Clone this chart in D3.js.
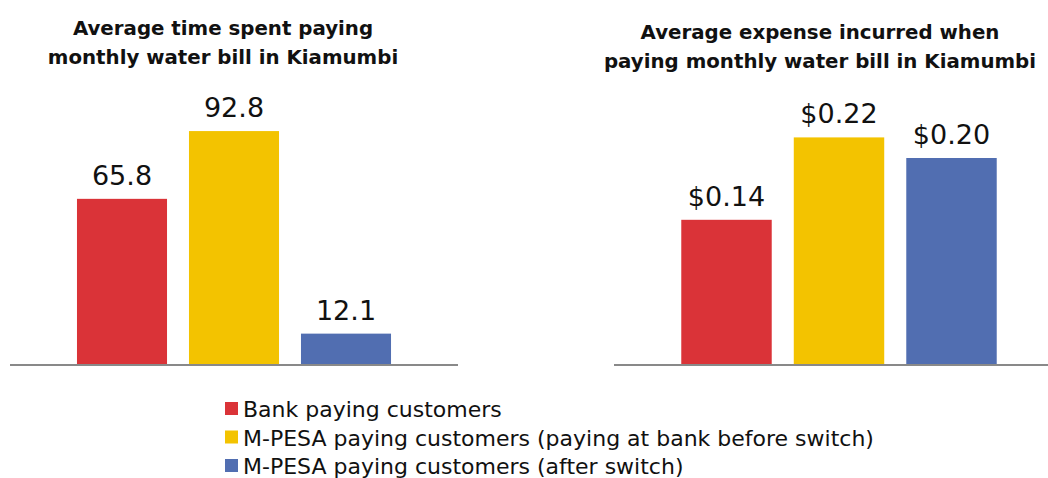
<!DOCTYPE html>
<html>
<head>
<meta charset="utf-8">
<script src="https://cdn.jsdelivr.net/npm/d3@7"></script>
<style>
  body { margin: 0; background: #fff; }
  text { font-family: 'DejaVu Sans', sans-serif; }
</style>
</head>
<body>
<div id="chart"></div>
<script>
const categories = [
    'Bank paying customers',
    'M-PESA paying customers (paying at bank before switch)',
    'M-PESA paying customers (after switch)'
];
const timeValues = [65.8, 92.8, 12.1];
const expenseValues = [0.14, 0.22, 0.20];
const timeLabels = ['65.8', '92.8', '12.1'];
const expenseLabels = ['$0.14', '$0.22', '$0.20'];
const titles = [
    ['Average time spent paying', 'monthly water bill in Kiamumbi'],
    ['Average expense incurred when', 'paying monthly water bill in Kiamumbi']
];
const colors = ['#DA3338', '#F3C300', '#516EB1'];

const width = 1048;
const height = 478;

const svg = d3.select('#chart')
    .append('svg')
    .attr('width', width)
    .attr('height', height);

const drawPanel = (opts) => {
    const xScale = d3.scaleBand()
        .domain(categories)
        .range(opts.xRange)
        .paddingInner(0.196)
        .paddingOuter(0.598);

    const yScale = d3.scaleLinear()
        .domain(opts.yDomain)
        .range([opts.baseY, opts.baseY - opts.pxPerDomain]);

    const g = svg.append('g');

    g.selectAll('rect')
        .data(opts.values)
        .join('rect')
        .attr('x', (d, i) => xScale(categories[i]))
        .attr('y', d => yScale(d))
        .attr('width', xScale.bandwidth())
        .attr('height', d => yScale(0) - yScale(d))
        .attr('fill', (d, i) => colors[i]);

    g.selectAll('.value')
        .data(opts.values)
        .join('text')
        .attr('class', 'value')
        .attr('x', (d, i) => xScale(categories[i]) + xScale.bandwidth() / 2)
        .attr('y', d => yScale(d) - 14)
        .attr('text-anchor', 'middle')
        .attr('font-size', 27)
        .attr('fill', '#111')
        .text((d, i) => opts.labels[i]);

    g.append('line')
        .attr('x1', opts.lineX[0])
        .attr('x2', opts.lineX[1])
        .attr('y1', opts.baseY + 1)
        .attr('y2', opts.baseY + 1)
        .attr('stroke', '#898989')
        .attr('stroke-width', 2);

    g.selectAll('.title')
        .data(opts.title)
        .join('text')
        .attr('class', 'title')
        .attr('x', opts.titleX)
        .attr('y', (d, i) => opts.titleY + i * 29)
        .attr('text-anchor', 'middle')
        .attr('font-size', 19.8)
        .attr('font-weight', 'bold')
        .attr('fill', '#111')
        .text(d => d);
};

drawPanel({
    values: timeValues,
    labels: timeLabels,
    title: titles[0],
    xRange: [10, 458],
    lineX: [10, 458],
    yDomain: [0, 100],
    pxPerDomain: 251,
    baseY: 364,
    titleX: 223,
    titleY: 35
});

drawPanel({
    values: expenseValues,
    labels: expenseLabels,
    title: titles[1],
    xRange: [614, 1064],
    lineX: [614, 1048],
    yDomain: [0, 0.25],
    pxPerDomain: 257.5,
    baseY: 364,
    titleX: 820,
    titleY: 39
});

const legend = svg.append('g')
    .attr('transform', 'translate(225, 402)');

const legendRow = legend.selectAll('g')
    .data(categories)
    .join('g')
    .attr('transform', (d, i) => `translate(0, ${i * 28.5})`);

legendRow.append('rect')
    .attr('width', 13)
    .attr('height', 13)
    .attr('fill', (d, i) => colors[i]);

legendRow.append('text')
    .attr('x', 18)
    .attr('y', 15)
    .attr('font-size', 22)
    .attr('fill', '#111')
    .text(d => d);
</script>
</body>
</html>
